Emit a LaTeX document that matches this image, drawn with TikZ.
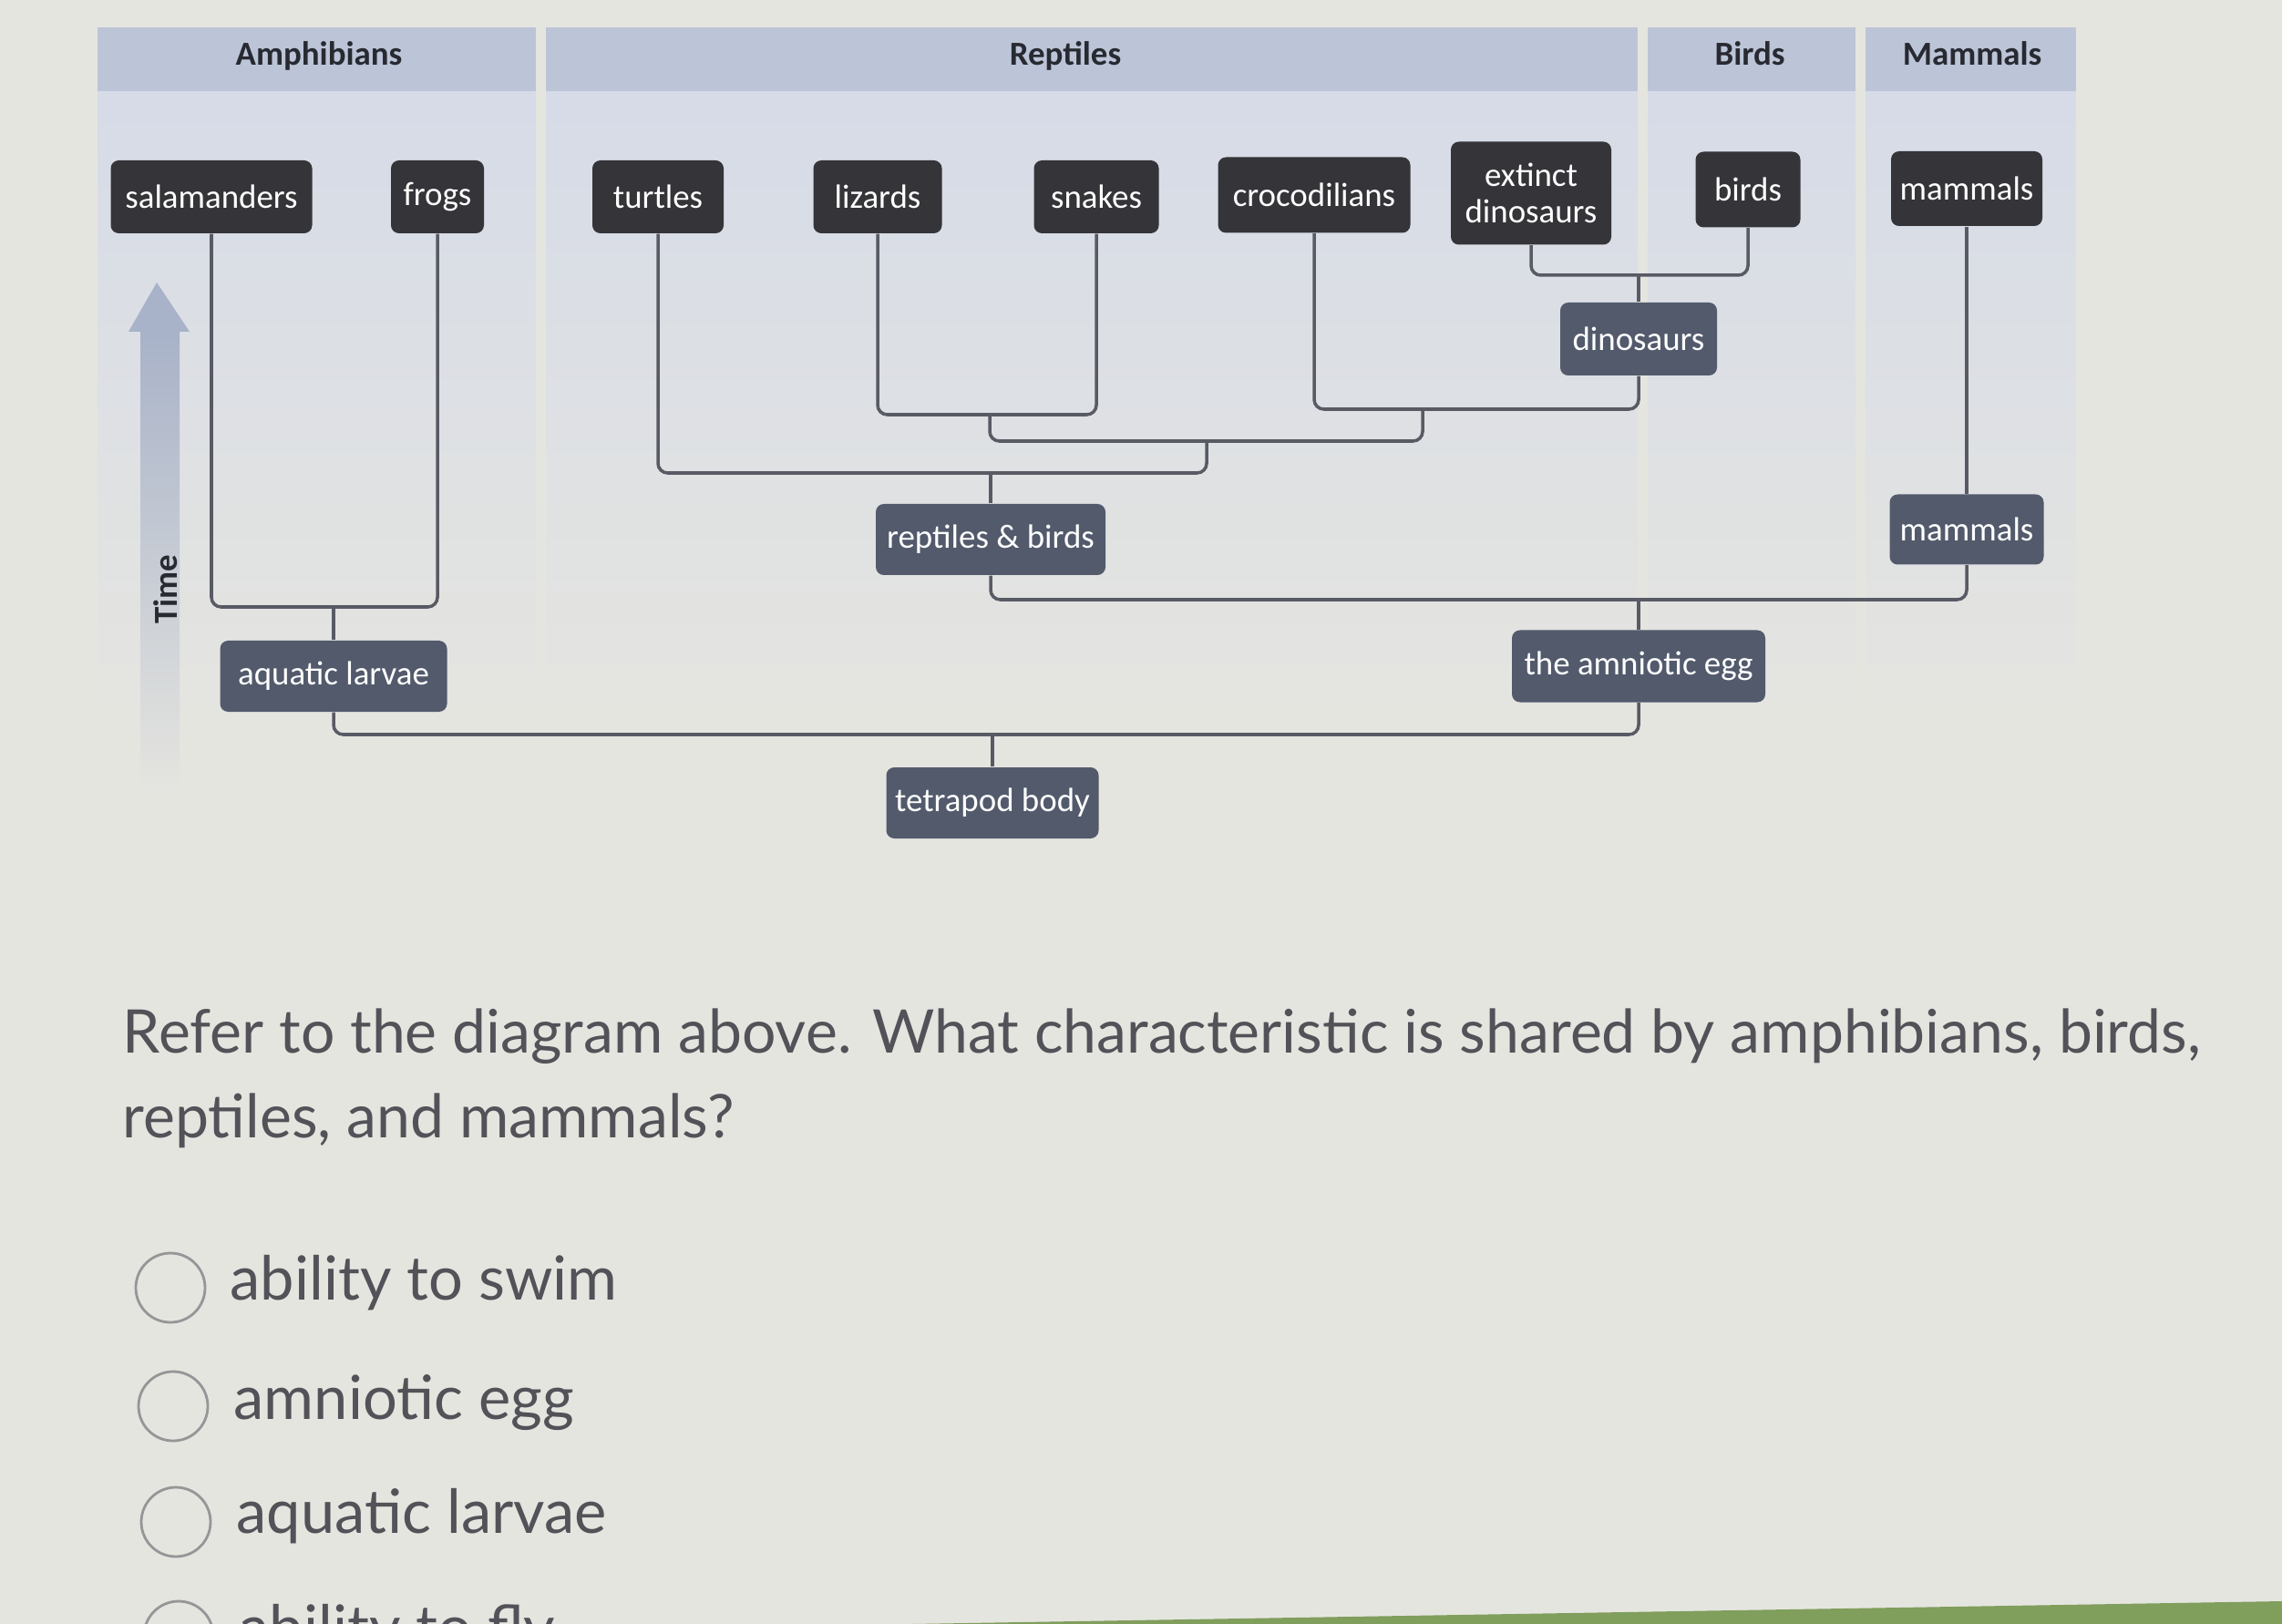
\documentclass[tikz,border=0pt]{standalone}
\usepackage{fontspec}
\setmainfont{Lato}
\newfontfamily\cladefont{Carlito}

\definecolor{pagebg}{RGB}{229,229,224}
\definecolor{bandfill}{RGB}{188,196,215}
\definecolor{colfill}{RGB}{214,219,231}
\definecolor{taxonfill}{RGB}{52,52,57}
\definecolor{traitfill}{RGB}{82,90,108}
\definecolor{linkgray}{RGB}{88,90,100}
\definecolor{headtext}{RGB}{40,42,50}
\definecolor{timearrow}{RGB}{168,178,200}
\definecolor{qtext}{RGB}{82,82,88}
\definecolor{radiogray}{RGB}{150,150,152}
\definecolor{barsgreen}{RGB}{128,158,92}

\begin{document}
\begin{tikzpicture}[
    taxon/.style={rounded corners=2.5pt, fill=taxonfill, text=white,
        font=\cladefont\fontsize{10.5}{12.5}\selectfont, minimum height=0.8cm,
        inner xsep=0.05cm, align=center},
    trait/.style={taxon, fill=traitfill},
    link/.style={draw=linkgray, line width=1pt, rounded corners=3pt},
    grouphead/.style={font=\cladefont\bfseries\fontsize{10.5}{12}\selectfont, text=headtext},
    option/.style={anchor=base west, inner sep=0pt, text=qtext,
        font=\fontsize{19}{24}\selectfont},
    radio/.style={circle, draw=radiogray, line width=0.8pt, minimum size=0.76cm, inner sep=0pt}
]
    \useasboundingbox (0,0) rectangle (25.04,-17.82);
    \clip (0,0) rectangle (25.04,-17.82);
    \fill[pagebg] (0,0) rectangle (25.04,-17.82);

    % group columns
    \foreach \xa/\xb in {1.07/5.88, 5.99/17.97, 18.08/20.36, 20.47/22.78} {
        \shade[top color=colfill, bottom color=pagebg] (\xa,-1.0) rectangle (\xb,-8.0);
        \fill[bandfill] (\xa,-0.30) rectangle (\xb,-1.0);
    }
    \node[grouphead] (hamph) at (3.50,-0.61) {Amphibians};
    \node[grouphead] (hrept) at (11.69,-0.61) {Reptiles};
    \node[grouphead] (hbird) at (19.20,-0.59) {Birds};
    \node[grouphead] (hmamm) at (21.64,-0.59) {Mammals};

    % time arrow
    \shade[top color=timearrow, bottom color=pagebg] (1.54,-3.62) rectangle (1.97,-8.7);
    \fill[timearrow] (1.41,-3.64) -- (1.72,-3.10) -- (2.08,-3.64) -- cycle;
    \node[grouphead, rotate=90] (timelbl) at (1.82,-6.47) {Time};

    % living groups
    \node[taxon, minimum width=2.21cm] (sal) at (2.32,-2.16) {salamanders};
    \node[taxon, minimum width=1.02cm] (frog) at (4.80,-2.16) {frogs};
    \node[taxon, minimum width=1.44cm] (turt) at (7.22,-2.16) {turtles};
    \node[taxon, minimum width=1.41cm] (liz) at (9.63,-2.16) {lizards};
    \node[taxon, minimum width=1.37cm] (snk) at (12.03,-2.16) {snakes};
    \node[taxon, minimum width=2.11cm, minimum height=0.83cm] (croc) at (14.42,-2.14) {crocodilians};
    \node[taxon, minimum width=1.76cm, minimum height=1.13cm] (ext) at (16.80,-2.12) {extinct\\[-1pt]dinosaurs};
    \node[taxon, minimum width=1.15cm, minimum height=0.83cm] (brd) at (19.18,-2.08) {birds};
    \node[taxon, minimum width=1.66cm, minimum height=0.82cm] (mamtop) at (21.58,-2.07) {mammals};

    % shared characters
    \node[trait, minimum width=1.72cm] (dino) at (17.98,-3.72) {dinosaurs};
    \node[trait, minimum width=2.52cm, minimum height=0.78cm] (rb) at (10.87,-5.92) {reptiles \& birds};
    \node[trait, minimum width=1.69cm, minimum height=0.77cm] (mamlow) at (21.58,-5.81) {mammals};
    \node[trait, minimum width=2.49cm, minimum height=0.78cm] (larv) at (3.66,-7.42) {aquatic larvae};
    \node[trait, minimum width=2.78cm, minimum height=0.79cm] (egg) at (17.98,-7.31) {the amniotic egg};
    \node[trait, minimum width=2.33cm, minimum height=0.78cm] (tetra) at (10.89,-8.81) {tetrapod body};

    % branch points
    \coordinate (jamph) at (3.66,-6.66);
    \coordinate (jsq) at (10.86,-4.55);
    \coordinate (jdino) at (17.98,-3.02);
    \coordinate (jarch) at (15.61,-4.49);
    \coordinate (jdiap) at (13.24,-4.84);
    \coordinate (jrept) at (10.87,-5.19);
    \coordinate (jamn) at (17.98,-6.58);
    \coordinate (jtetra) at (10.89,-8.06);

    \draw[link] (sal.south) |- (jamph) -| (frog.south);
    \draw[link] (jamph) -- (larv.north);
    \draw[link] (liz.south) |- (jsq) -| (snk.south);
    \draw[link] (ext.south) |- (jdino) -| (brd.south);
    \draw[link] (jdino) -- (dino.north);
    \draw[link] (croc.south) |- (jarch) -| (dino.south);
    \draw[link] (jsq) |- (jdiap) -| (jarch);
    \draw[link] (turt.south) |- (jrept) -| (jdiap);
    \draw[link] (jrept) -- (rb.north);
    \draw[link] (mamtop.south) -- (mamlow.north);
    \draw[link] (rb.south) |- (jamn) -| (mamlow.south);
    \draw[link] (jamn) -- (egg.north);
    \draw[link] (larv.south) |- (jtetra) -| (egg.south);
    \draw[link] (jtetra) -- (tetra.north);

    % question
    \node[option, font=\fontsize{18.8}{24}\selectfont] (q1) at (1.34,-11.55) {Refer to the diagram above. What characteristic is shared by amphibians, birds,};
    \node[option, font=\fontsize{18.8}{24}\selectfont] (q2) at (1.34,-12.48) {reptiles, and mammals?};

    \node[radio] (r1) at (1.87,-14.13) {};
    \node[option] (o1) at (2.52,-14.26) {ability to swim};
    \node[radio] (r2) at (1.90,-15.43) {};
    \node[option] (o2) at (2.56,-15.57) {amniotic egg};
    \node[radio] (r3) at (1.93,-16.70) {};
    \node[option] (o3) at (2.59,-16.82) {aquatic larvae};
    \node[radio] (r4) at (1.96,-17.95) {};
    \node[option] (o4) at (2.62,-18.09) {ability to fly};

    \fill[barsgreen] (10.0,-17.82) -- (25.04,-17.57) -- (25.04,-17.82) -- cycle;
\end{tikzpicture}
\end{document}
